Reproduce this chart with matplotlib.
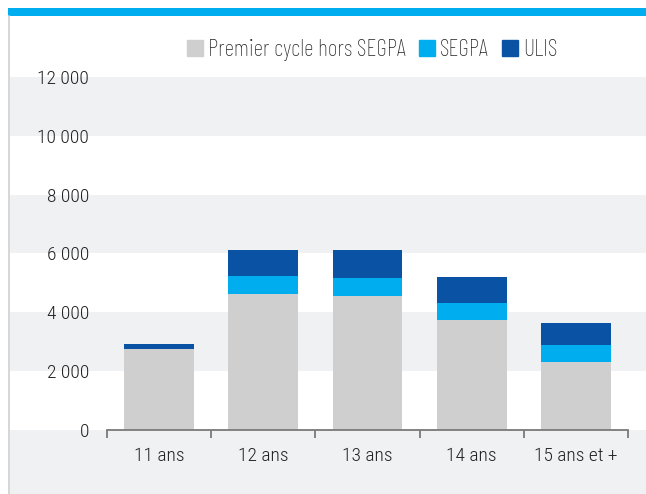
import numpy as np
import matplotlib
matplotlib.use("Agg")
from matplotlib import pyplot as plt
from matplotlib.patches import Rectangle
from matplotlib.transforms import blended_transform_factory
from matplotlib.ticker import FuncFormatter

categories = ["11 ans", "12 ans", "13 ans", "14 ans", "15 ans et +"]
premier_cycle = [2750, 4620, 4560, 3740, 2310]
segpa = [0, 610, 610, 580, 580]
ulis = [170, 890, 950, 880, 750]
series_names = ["Premier cycle hors SEGPA", "SEGPA", "ULIS"]
yticks = [0, 2000, 4000, 6000, 8000, 10000, 12000]

grey = "#cfcfcf"
cyan = "#00aeef"
navy = "#0a52a3"
band = "#f0f1f3"
txt = "#222222"

plt.rcParams["font.family"] = ["Roboto Condensed", "Barlow Condensed", "DejaVu Sans"]
plt.rcParams["font.weight"] = "light"

fig = plt.figure(figsize=(6.46, 4.94), dpi=100)
W, H = 646, 494
ax = fig.add_axes([107 / W, (H - 430) / H, (628 - 107) / W, (430 - 77) / H])
ax.set_ylim(0, 12000)
ax.set_xlim(-0.5, len(categories) - 0.5)

# shaded bands running across the whole frame
tr = blended_transform_factory(fig.transFigure, ax.transData)
for y0, y1 in [(10000, 12000), (6000, 8000), (2000, 4000), (-3000, 0)]:
    ax.add_patch(Rectangle((10 / W, y0), 1, y1 - y0, transform=tr,
                           facecolor=band, edgecolor="none", clip_on=False, zorder=0))

x = np.arange(len(categories))
bottom2 = np.array(premier_cycle) + np.array(segpa)
ax.bar(x, premier_cycle, width=0.67, color=grey, zorder=2)
ax.bar(x, segpa, width=0.67, bottom=premier_cycle, color=cyan, zorder=2)
ax.bar(x, ulis, width=0.67, bottom=bottom2, color=navy, zorder=2)

for s in ["top", "right", "left"]:
    ax.spines[s].set_visible(False)
ax.spines["bottom"].set_color("#7a7a7a")
ax.spines["bottom"].set_linewidth(1.3)
ax.spines["bottom"].set_zorder(3)
ax.patch.set_visible(False)

ax.set_yticks(yticks)
ax.yaxis.set_major_formatter(FuncFormatter(lambda v, p: f"{int(v):,}".replace(",", " ")))
ax.tick_params(axis="y", length=0, pad=13, labelsize=14, labelcolor=txt)

ax.set_xticks(np.arange(-0.5, len(categories), 1.0))
ax.set_xticklabels([])
ax.tick_params(axis="x", which="major", length=6, width=1.3, color="#7a7a7a")
ax.set_xticks(x, minor=True)
ax.set_xticklabels(categories, minor=True)
ax.tick_params(axis="x", which="minor", length=0, pad=12, labelsize=14, labelcolor=txt)

# frame decorations
fig.add_artist(Rectangle((8 / W, 1 - 16 / H), 1, 8 / H, transform=fig.transFigure,
                         facecolor=cyan, edgecolor="none"))
fig.add_artist(plt.Line2D([9 / W, 9 / W], [0, 1 - 16 / H], transform=fig.transFigure,
                          color="#d0d0d0", lw=1.2))

# legend in a narrower face so the wide labels fit like the original
handles = [Rectangle((0, 0), 1, 1, color=c) for c in [grey, cyan, navy]]
fig.legend(handles, series_names, loc="center left", bbox_to_anchor=(187 / W, 1 - 50 / H),
           ncol=3, frameon=False, handlelength=0.68, handleheight=0.64,
           handletextpad=0.22, columnspacing=0.55, labelcolor=txt, borderaxespad=0,
           borderpad=0,
           prop={"family": ["Barlow Condensed", "DejaVu Sans"], "size": 17, "weight": "light"})

plt.savefig("out.png", dpi=100)
